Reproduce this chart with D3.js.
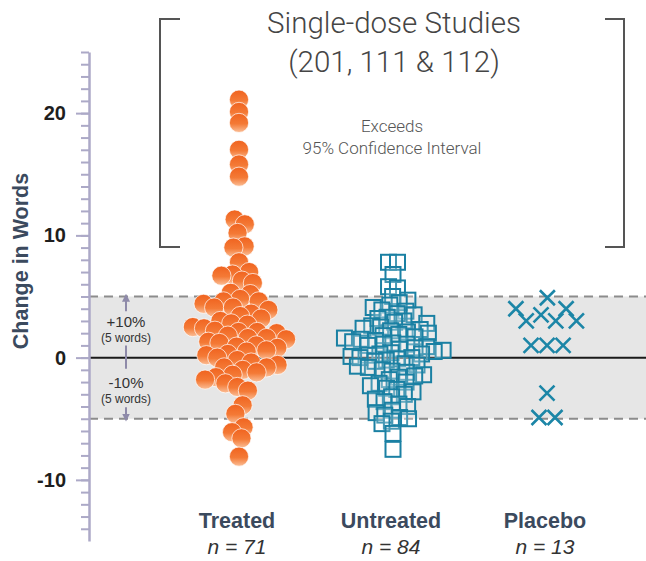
<!DOCTYPE html>
<html><head><meta charset="utf-8">
<script src="https://cdn.jsdelivr.net/npm/d3@7"></script>
<style>body{margin:0;background:#fff}</style>
</head><body><svg id="chart" width="646" height="561"></svg>
<script>
const categories = ["Treated", "Untreated", "Placebo"];
const groupCounts = ["n = 71", "n = 84", "n = 13"];
const treated = [21.1, 20.1, 19.2, 17.0, 15.8, 14.8, 11.3, 10.9, 10.2, 9.1, 9.0, 7.8, 7.0, 6.8, 6.7, 6.3, 6.1,
  5.3, 5.2, 4.8, 4.6, 4.6, 4.4, 4.1, 4.1, 3.9, 3.6, 3.4, 3.2, 3.0, 2.8, 2.7, 2.5, 2.4, 2.2, 2.1, 2.1,
  2.0, 1.8, 1.6, 1.6, 1.5, 1.3, 1.2, 1.0, 0.9, 0.8, 0.6, 0.5, 0.3, 0.2, 0.0, -0.2, -0.4, -0.6, -0.8, -0.8,
  -1.0, -1.2, -1.4, -1.6, -1.8, -2.1, -2.4, -2.7, -3.9, -4.6, -5.7, -6.1, -6.6, -8.1];
const untreated = [7.8, 7.8, 6.8, 5.8, 5.7, 5.0, 4.7, 4.5, 4.3, 4.1, 3.9, 3.8, 3.6, 3.5, 3.3, 3.2, 3.0, 2.9,
  2.8, 2.6, 2.5, 2.4, 2.3, 2.2, 2.1, 2.0, 1.9, 1.8, 1.7, 1.6, 1.5, 1.4, 1.3, 1.2, 1.1, 1.1, 1.0, 0.9, 0.8,
  0.7, 0.6, 0.5, 0.4, 0.3, 0.3, 0.2, 0.1, 0.0, 0.0, -0.1, -0.2, -0.3, -0.5, -0.6, -0.7, -0.8, -1.0, -1.1,
  -1.2, -1.4, -1.5, -1.6, -1.8, -2.0, -2.1, -2.3, -2.5, -2.6, -2.8, -3.0, -3.2, -3.4, -3.6, -3.8, -4.0,
  -4.3, -4.5, -4.7, -4.9, -5.0, -5.2, -5.4, -6.2, -7.5];
const placebo = [4.9, 4.0, 4.0, 3.5, 3.0, 3.0, 3.0, 1.0, 1.0, 1.0, -2.9, -4.9, -4.9];
const majorTicks = [-10, 0, 10, 20];
const minorTicks = d3.range(-14, 26);
const bandLimit = 5;
const titleLines = ["Single-dose Studies", "(201, 111 & 112)"];
const noteLines = ["Exceeds", "95% Confidence Interval"];
const bandLabels = [["+10%", "(5 words)"], ["-10%", "(5 words)"]];

const svg = d3.select("#chart");
const W = 646;
const axisX = 89;
const x = d3.scalePoint().domain(categories).range([239, 547]);
const y = d3.scaleLinear().domain([-15, 25]).range([541, 52]);

const defs = svg.append("defs");
const grad = defs.append("linearGradient").attr("id", "og").attr("x1", 0).attr("y1", 0).attr("x2", 0).attr("y2", 1);
grad.append("stop").attr("offset", "0%").attr("stop-color", "#f0631f");
grad.append("stop").attr("offset", "55%").attr("stop-color", "#f47a36");
grad.append("stop").attr("offset", "100%").attr("stop-color", "#fbbf98");
const arrowCol = "#8e8aa9";
defs.append("marker").attr("id", "arr").attr("viewBox", "0 0 10 10").attr("refX", 5).attr("refY", 5)
  .attr("markerWidth", 4).attr("markerHeight", 4).attr("orient", "auto-start-reverse")
  .append("path").attr("d", "M0,0 L10,5 L0,10 z").attr("fill", arrowCol);

// band
svg.append("rect").attr("x", axisX).attr("y", y(bandLimit)).attr("width", W - axisX)
  .attr("height", y(-bandLimit) - y(bandLimit)).attr("fill", "#e6e6e6");
[bandLimit, -bandLimit].forEach(v => {
  svg.append("line").attr("x1", axisX).attr("x2", W).attr("y1", y(v)).attr("y2", y(v))
    .attr("stroke", "#8c8c8c").attr("stroke-width", 2).attr("stroke-dasharray", "9,6");
});
svg.append("line").attr("x1", axisX).attr("x2", W).attr("y1", y(0)).attr("y2", y(0))
  .attr("stroke", "#1a1a1a").attr("stroke-width", 2);

// band annotation
const ax = 126;
const segs = [[bandLimit - 0.1, 3.8, true], [1.0, -0.9, false], [-4.05, -bandLimit + 0.1, true]];
segs.forEach(([a, b, arrow], i) => {
  const l = svg.append("line").attr("x1", ax).attr("x2", ax).attr("y1", y(i === 0 ? b : a)).attr("y2", y(i === 0 ? a : b))
    .attr("stroke", arrowCol).attr("stroke-width", 2);
  if (arrow) l.attr("marker-end", "url(#arr)");
});
const labelVals = [[2.5, 1.3], [-2.5, -3.7]];
bandLabels.forEach((pair, i) => {
  svg.append("text").attr("x", ax).attr("y", y(labelVals[i][0])).attr("text-anchor", "middle")
    .attr("font-family", "Liberation Sans, Arial, sans-serif").attr("font-size", 15).attr("fill", "#333").text(pair[0]);
  svg.append("text").attr("x", ax).attr("y", y(labelVals[i][1])).attr("text-anchor", "middle")
    .attr("font-family", "Liberation Sans, Arial, sans-serif").attr("font-size", 12).attr("fill", "#333").text(pair[1]);
});

// title bracket
const br = svg.append("g").attr("fill", "none").attr("stroke", "#555").attr("stroke-width", 2);
br.append("path").attr("d", "M180,19H160V247H180");
br.append("path").attr("d", "M605,19H624V247H605");
svg.selectAll(".title").data(titleLines).join("text").attr("class", "title")
  .attr("x", 394).attr("y", (d, i) => 33 + i * 39).attr("text-anchor", "middle")
  .attr("font-family", "Roboto, Helvetica, sans-serif").attr("font-weight", 300).attr("font-size", 29.5)
  .attr("fill", "#454545").text(d => d);
svg.selectAll(".note").data(noteLines).join("text").attr("class", "note")
  .attr("x", 392).attr("y", (d, i) => 132 + i * 22).attr("text-anchor", "middle")
  .attr("font-family", "Roboto, Helvetica, sans-serif").attr("font-weight", 300).attr("font-size", 17)
  .attr("fill", "#555").text(d => d);

// axis
const minor = svg.append("g").attr("transform", `translate(${axisX},0)`)
  .call(d3.axisLeft(y).tickValues(minorTicks).tickSize(8).tickSizeOuter(0).tickFormat(""));
minor.selectAll("line").attr("stroke", "#aca9c7").attr("stroke-width", 2);
minor.select(".domain").attr("stroke", "#aca9c7").attr("stroke-width", 2.5);
const major = svg.append("g").attr("transform", `translate(${axisX},0)`)
  .call(d3.axisLeft(y).tickValues(majorTicks).tickSize(13).tickPadding(10).tickFormat(d => String(d)));
major.select(".domain").remove();
major.selectAll("line").attr("stroke", "#aca9c7").attr("stroke-width", 2);
major.selectAll("text").attr("font-family", "Liberation Sans, Arial, sans-serif").attr("font-weight", "bold")
  .attr("font-size", 20).attr("fill", "#1e1e1e");
svg.append("text").attr("transform", `translate(28,${261}) rotate(-90)`).attr("text-anchor", "middle")
  .attr("font-family", "Liberation Sans, Arial, sans-serif").attr("font-weight", "bold").attr("font-size", 21.5)
  .attr("fill", "#3b4a5e").text("Change in Words");

// swarm layout
function swarm(values, cx, r, strength, cs) {
  const nodes = values.map(v => ({ v, x: cx, y: y(v), fy: y(v) }));
  const sim = d3.forceSimulation(nodes).force("x", d3.forceX(cx).strength(strength))
    .force("c", d3.forceCollide(r).strength(cs).iterations(2)).stop();
  for (let i = 0; i < 400; i++) sim.tick();
  return nodes;
}
const tNodes = swarm(treated, x("Treated"), 5.6, 0.12, 0.7);
const uNodes = swarm(untreated, x("Untreated"), 4.5, 0.12, 0.7);
const pNodes = swarm(placebo, x("Placebo"), 8, 0.03, 1);

svg.append("g").selectAll("circle").data(tNodes).join("circle")
  .attr("cx", d => d.x).attr("cy", d => d.y).attr("r", 9.6)
  .attr("fill", "url(#og)").attr("stroke", "#fff").attr("stroke-opacity", 0.7).attr("stroke-width", 1);
const sq = 15;
svg.append("g").selectAll("rect").data(uNodes).join("rect")
  .attr("x", d => d.x - sq / 2).attr("y", d => d.y - sq / 2).attr("width", sq).attr("height", sq)
  .attr("fill", "#fff").attr("fill-opacity", 0.2).attr("stroke", "#1a80a3").attr("stroke-width", 2);
const s = 7.5;
svg.append("g").selectAll("path").data(pNodes).join("path")
  .attr("d", d => `M${d.x - s},${d.y - s}L${d.x + s},${d.y + s}M${d.x - s},${d.y + s}L${d.x + s},${d.y - s}`)
  .attr("stroke", "#1c86a7").attr("stroke-width", 2.6).attr("fill", "none");

// category labels
svg.selectAll(".cat").data(categories).join("text").attr("class", "cat")
  .attr("x", d => x(d) - 2).attr("y", 528).attr("text-anchor", "middle")
  .attr("font-family", "Liberation Sans, Arial, sans-serif").attr("font-weight", "bold").attr("font-size", 21.5)
  .attr("fill", "#3b4a5e").text(d => d);
svg.selectAll(".cnt").data(groupCounts).join("text").attr("class", "cnt")
  .attr("x", (d, i) => x(categories[i]) - 2).attr("y", 554).attr("text-anchor", "middle")
  .attr("font-family", "Liberation Sans, Arial, sans-serif").attr("font-style", "italic").attr("font-size", 21)
  .attr("fill", "#333").text(d => d);
</script></body></html>
